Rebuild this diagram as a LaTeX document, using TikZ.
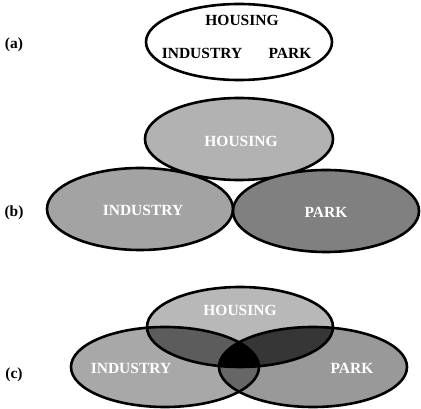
\documentclass[tikz,border=0pt]{standalone}
\usepackage{fontspec}
\setmainfont{Liberation Serif}
\usepackage{xcolor}
\usepackage{tikz}
\usetikzlibrary{positioning}

\definecolor{houGray}{gray}{0.70}
\definecolor{indGray}{gray}{0.64}
\definecolor{parGray}{gray}{0.50}
\definecolor{houC}{gray}{0.72}
\definecolor{indC}{gray}{0.66}
\definecolor{parC}{gray}{0.60}
\definecolor{hiC}{gray}{0.36}
\definecolor{hpC}{gray}{0.21}
\definecolor{ipC}{gray}{0.40}

\begin{document}
\begin{tikzpicture}[
  x=1pt, y=-1pt,
  blob/.style={draw=black, line width=2.6pt},
  word/.style={font=\bfseries\fontsize{15.5}{16}\selectfont, inner sep=0pt},
  tag/.style={font=\bfseries\fontsize{15.5}{16}\selectfont, inner sep=0pt}
]
  \useasboundingbox (0,0) rectangle (421,409);

  % (a)
  \draw[blob] (239,42) ellipse [x radius=93, y radius=38];
  \node[tag] (la) at (14,45) {(a)};
  \node[word] (hA) at (242,20) {HOUSING};
  \node[word] (iA) at (202,53) {INDUSTRY};
  \node[word] (pA) at (290,53) {PARK};

  % (b)
  \draw[blob, fill=houGray] (239,139) ellipse [x radius=94, y radius=41];
  \draw[blob, fill=indGray] (140,209) ellipse [x radius=93, y radius=41];
  \draw[blob, fill=parGray] (326,211) ellipse [x radius=93, y radius=41];
  \node[tag] (lb) at (14,213) {(b)};
  \node[word, white] (hB) at (241,141) {HOUSING};
  \node[word, white] (iB) at (143,210) {INDUSTRY};
  \node[word, white] (pB) at (326,212) {PARK};

  % (c)
  \def\houC{(240,327) ellipse [x radius=93, y radius=40]}
  \def\indC{(165,367) ellipse [x radius=94, y radius=40]}
  \def\parC{(313,367) ellipse [x radius=94, y radius=40]}
  \fill[houC] \houC;
  \fill[indC] \indC;
  \fill[parC] \parC;
  \begin{scope}
    \clip \houC;
    \fill[hiC] \indC;
    \fill[hpC] \parC;
  \end{scope}
  \begin{scope}
    \clip \indC;
    \fill[ipC] \parC;
    \clip \parC;
    \fill[black] \houC;
  \end{scope}
  \draw[blob] \houC;
  \draw[blob] \indC;
  \draw[blob] \parC;
  \node[tag] (lc) at (14,375) {(c)};
  \node[word, white] (hC) at (240,310) {HOUSING};
  \node[word, white] (iC) at (131,368) {INDUSTRY};
  \node[word, white] (pC) at (352,368) {PARK};
\end{tikzpicture}
\end{document}
